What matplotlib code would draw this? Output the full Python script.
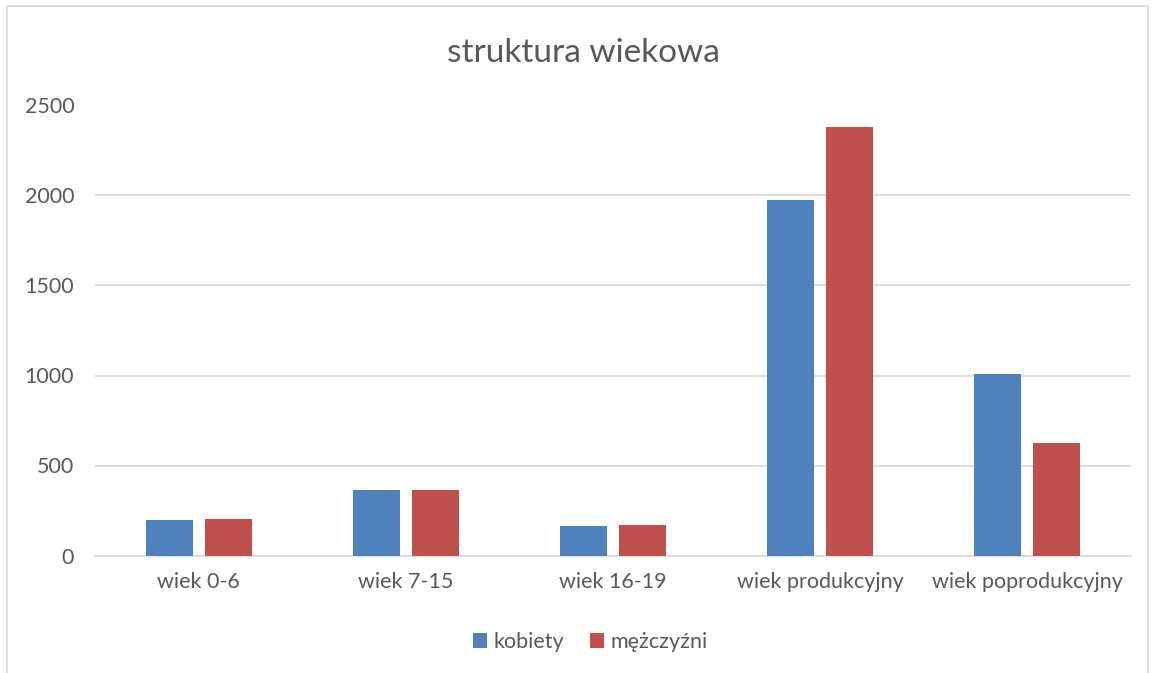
import matplotlib
matplotlib.use("Agg")
import matplotlib.pyplot as plt
import numpy as np
from matplotlib.patches import Rectangle

categories = ["wiek 0-6", "wiek 7-15", "wiek 16-19", "wiek produkcyjny", "wiek poprodukcyjny"]
kobiety = [196, 364, 164, 1975, 1010]
mezczyzni = [204, 362, 171, 2379, 625]
series_names = ["kobiety", "mężczyźni"]
colors = ["#4F81BD", "#C0504D"]
yticks = [0, 500, 1000, 1500, 2000, 2500]

plt.rcParams['font.family'] = ['Lato', 'DejaVu Sans']
txt = "#595959"

fig = plt.figure(figsize=(11.54, 6.73), dpi=100)
fig.patches.append(Rectangle((7/1154, -0.01), (1148-7)/1154, 1 - 6/673 + 0.01,
                             transform=fig.transFigure, fill=False,
                             edgecolor="#D9D9D9", linewidth=1.2))
ax = fig.add_axes([95/1154, 1 - 555.5/673, (1131-95)/1154, (555.5-105.5)/673])

x = np.arange(len(categories))
w = 0.227
off = 0.1425
ax.bar(x - off, kobiety, w, color=colors[0], label=series_names[0], zorder=3)
ax.bar(x + off, mezczyzni, w, color=colors[1], label=series_names[1], zorder=3)

ax.set_xlim(-0.5, len(categories) - 0.5)
ax.set_ylim(0, 2500)
ax.set_yticks(yticks)
ax.set_yticklabels([str(v) for v in yticks])
ax.set_xticks(x)
ax.set_xticklabels(categories)
ax.tick_params(axis='both', length=0, labelsize=15.5, colors=txt)
ax.tick_params(axis='y', pad=15)
ax.tick_params(axis='x', pad=12)
ax.grid(axis='y', color="#D9D9D9", linewidth=1.2, zorder=0)
for s in ["top", "right", "left"]:
    ax.spines[s].set_visible(False)
ax.spines["bottom"].set_color("#D9D9D9")
ax.spines["bottom"].set_linewidth(1.2)

fig.text(583/1154, 1 - 53/673, "struktura wiekowa", ha="center", va="center",
         fontsize=24, color=txt)

leg = fig.legend(loc="center", bbox_to_anchor=(590/1154, 1 - 642/673), ncol=2,
                 frameon=False, fontsize=15.5, handlelength=0.65, handleheight=0.65,
                 handletextpad=0.3, columnspacing=1.2, labelcolor=txt)

fig.savefig("out.png", dpi=100)
